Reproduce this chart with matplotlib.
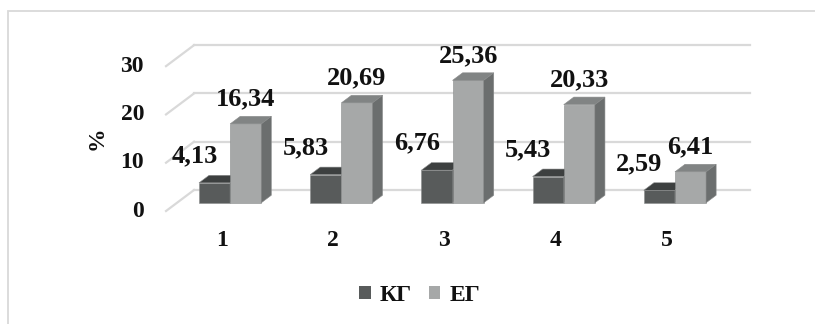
import numpy as np
import matplotlib
matplotlib.use('Agg')
import matplotlib.pyplot as plt
from matplotlib.patches import Polygon, Rectangle, Patch

# Results per group (percent)
categories = ['1', '2', '3', '4', '5']
kg_values = [4.13, 5.83, 6.76, 5.43, 2.59]
eg_values = [16.34, 20.69, 25.36, 20.33, 6.41]
series_names = ['КГ', 'ЕГ']
y_ticks = [0, 10, 20, 30]

plt.rcParams['font.family'] = ['Liberation Serif', 'DejaVu Serif']
plt.rcParams['font.weight'] = 'bold'

# face colours: front, top, side
dark = ('#585b5b', '#3d4040', '#474a4a')
light = ('#a6a8a8', '#818484', '#6b6e6e')
grid_color = '#d9d9d9'
text_color = '#111111'

fig = plt.figure(figsize=(8.15, 3.24), dpi=100)
ax = fig.add_axes([0, 0, 1, 1])
ax.set_xlim(-0.993, 6.336)
ax.set_ylim(-23.4, 43.7)
ax.axis('off')

# oblique depth of the floor (x in category units, y in value units)
DX, DY = 0.252, 4.35
T_FRONT, T_BACK = 0.39, 0.75   # depth slot of the bars
bw = 0.28
shift = -0.022

x = np.arange(1, len(categories) + 1)
x_lo, x_hi = x[0] - 0.5, x[-1] + 0.5

# chart frame
ax.add_patch(Rectangle((8 / 815, -0.1), 1.2, 1.1 - 11 / 324, transform=ax.transAxes,
                       fill=False, edgecolor=grid_color, lw=1.3, clip_on=False))

# back wall gridlines and side wall diagonals
for v in y_ticks:
    ax.plot([x_lo + DX, x_hi + DX], [v + DY, v + DY], color=grid_color, lw=1.6, zorder=1)
    ax.plot([x_lo, x_lo + DX], [v, v + DY], color=grid_color, lw=1.6, zorder=1)
    ax.annotate(str(v), (x_lo, v), xytext=(-22, 0), textcoords='offset pixels',
                ha='right', va='center', fontsize=17, color=text_color)

ax.annotate('%', (x_lo, 15), xytext=(-69, 0), textcoords='offset pixels',
            ha='center', va='center', rotation=90, fontsize=17, color=text_color)

bx = (T_BACK - T_FRONT) * DX
by = (T_BACK - T_FRONT) * DY
base = T_FRONT * DY


def draw_bars(xs, vals, colors, z):
    fronts = ax.bar(xs, vals, bw, bottom=base, align='edge', color=colors[0],
                    edgecolor='#8a8c8c', lw=0.4, zorder=z)
    for rect in fronts:
        x0 = rect.get_x()
        x1 = x0 + rect.get_width()
        b = rect.get_y()
        h = b + rect.get_height()
        top = [(x0, h), (x1, h), (x1 + bx, h + by), (x0 + bx, h + by)]
        side = [(x1, b), (x1, h), (x1 + bx, h + by), (x1 + bx, b + by)]
        ax.add_patch(Polygon(top, closed=True, facecolor=colors[1],
                             edgecolor='#8a8c8c', lw=0.4, zorder=z))
        ax.add_patch(Polygon(side, closed=True, facecolor=colors[2],
                             edgecolor='#8a8c8c', lw=0.4, zorder=z))
    return fronts


front_x = x + T_FRONT * DX + shift
draw_bars(front_x - bw, kg_values, dark, 2)
draw_bars(front_x, eg_values, light, 3)

# value labels
for xi, kv, ev in zip(front_x, kg_values, eg_values):
    ax.annotate(f'{kv:.2f}'.replace('.', ','), (xi - bw / 2, kv + base),
                xytext=(-20, 27), textcoords='offset pixels', ha='center', va='center',
                fontsize=19, color=text_color, zorder=5)
    ax.annotate(f'{ev:.2f}'.replace('.', ','), (xi + bw / 2, ev + base),
                xytext=(0, 25), textcoords='offset pixels', ha='center', va='center',
                fontsize=19, color=text_color, zorder=5)

# category labels
for xi, label in zip(x, categories):
    ax.annotate(label, (xi, 0), xytext=(0, -29), textcoords='offset pixels',
                ha='center', va='center', fontsize=17, color=text_color)

handles = [Patch(facecolor=dark[0]), Patch(facecolor=light[0])]
fig.legend(handles, series_names, loc='center', bbox_to_anchor=(0.515, 0.088), ncol=2,
           frameon=False, fontsize=17, handlelength=0.5, handleheight=0.5,
           handletextpad=0.4, columnspacing=0.7, labelcolor=text_color)

fig.savefig('out.png', dpi=100)
